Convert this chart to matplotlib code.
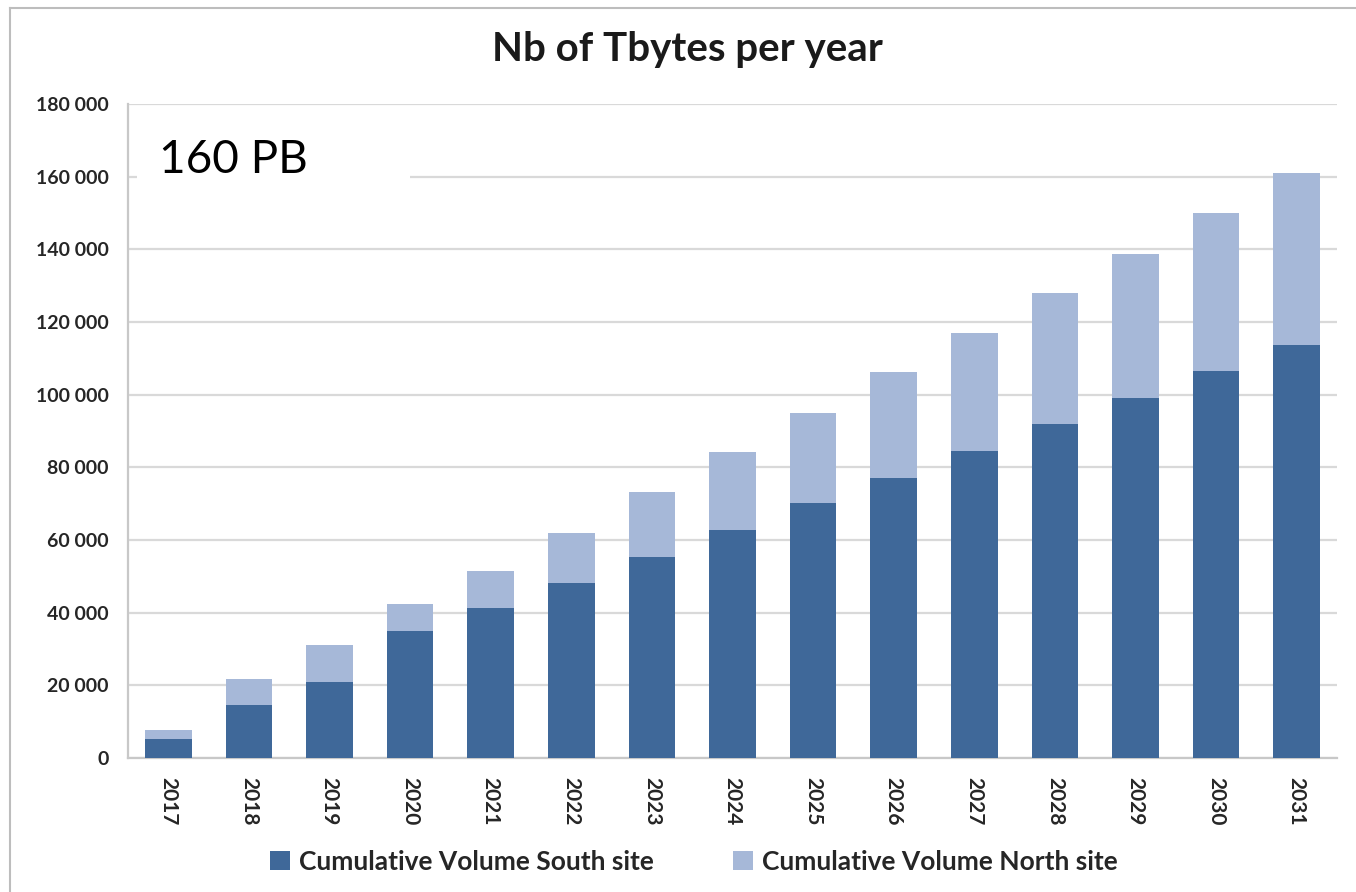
import matplotlib
matplotlib.use("Agg")
import matplotlib.pyplot as plt
from matplotlib.lines import Line2D
from matplotlib.patches import Patch, Rectangle
from matplotlib.ticker import FuncFormatter, MultipleLocator

years = ["2017", "2018", "2019", "2020", "2021", "2022", "2023", "2024",
         "2025", "2026", "2027", "2028", "2029", "2030", "2031"]
south = [5200, 14600, 20900, 35000, 41300, 48200, 55300, 62700,
         70200, 77100, 84500, 91900, 99100, 106500, 113700]
total = [7700, 21700, 31100, 42400, 51500, 61900, 73200, 84200,
         95000, 106200, 117000, 128000, 138700, 150000, 161000]
north = [t - s for t, s in zip(total, south)]

plt.rcParams["font.family"] = ["Lato", "DejaVu Sans"]

SOUTH_C = "#3f6899"
NORTH_C = "#a6b8d8"
GRID_C = "#d9d9d9"
TEXT_C = "#262626"

fig = plt.figure(figsize=(13.56, 8.92), dpi=100)
ax = fig.add_axes([0.0944, 0.1502, 0.8916, 0.7332])

x = list(range(len(years)))
ax.bar(x, south, width=0.58, color=SOUTH_C, zorder=3,
       label="Cumulative Volume South site")
ax.bar(x, north, width=0.58, bottom=south, color=NORTH_C, zorder=3,
       label="Cumulative Volume North site")

ax.set_xlim(-0.5, len(years) - 0.5)
ax.set_ylim(0, 180000)
ax.yaxis.set_major_locator(MultipleLocator(20000))
ax.yaxis.set_major_formatter(
    FuncFormatter(lambda v, p: f"{int(v):,}".replace(",", " ")))
ax.grid(axis="y", color=GRID_C, linewidth=1.6, zorder=0)
ax.set_axisbelow(True)

for side in ("top", "right"):
    ax.spines[side].set_visible(False)
for side in ("left", "bottom"):
    ax.spines[side].set_color("#c8c8c8")
    ax.spines[side].set_linewidth(1.6)

ax.set_xticks(x)
ax.set_xticklabels(years, rotation=270, fontsize=15, fontweight="bold",
                   color=TEXT_C)
ax.tick_params(axis="x", length=0, pad=14)
ax.tick_params(axis="y", length=0, pad=14, labelsize=14,
               labelcolor=TEXT_C)
for lab in ax.get_yticklabels():
    lab.set_fontweight("bold")

fig.text(0.507, 0.944, "Nb of Tbytes per year", ha="center", va="center",
         fontsize=29, fontweight="bold", color="#1a1a1a")

# white label box that interrupts the top gridlines
ax.add_patch(Rectangle((0.0074, 0.868), 0.226, 0.077, transform=ax.transAxes,
                       facecolor="white", edgecolor="none", zorder=4))
ax.text(0.026, 0.915, "160 PB", transform=ax.transAxes, ha="left",
        va="center", fontsize=33, color="black", zorder=5)

handles = [Patch(facecolor=SOUTH_C), Patch(facecolor=NORTH_C)]
leg = fig.legend(handles, ["Cumulative Volume South site",
                           "Cumulative Volume North site"],
                 loc="center", bbox_to_anchor=(0.512, 0.034), ncol=2,
                 frameon=False, handlelength=0.75, handleheight=0.75,
                 handletextpad=0.35, columnspacing=3.0,
                 prop={"size": 19, "weight": "bold"})
for t in leg.get_texts():
    t.set_color(TEXT_C)

# frame lines around the chart area
fig.add_artist(Line2D([10 / 1356, 1.0], [1 - 8 / 892, 1 - 8 / 892],
                      transform=fig.transFigure, color="#bdbdbd", lw=1.5))
fig.add_artist(Line2D([10 / 1356, 10 / 1356], [0.0, 1 - 8 / 892],
                      transform=fig.transFigure, color="#bdbdbd", lw=1.5))

fig.savefig("out.png", dpi=100, facecolor="white")
